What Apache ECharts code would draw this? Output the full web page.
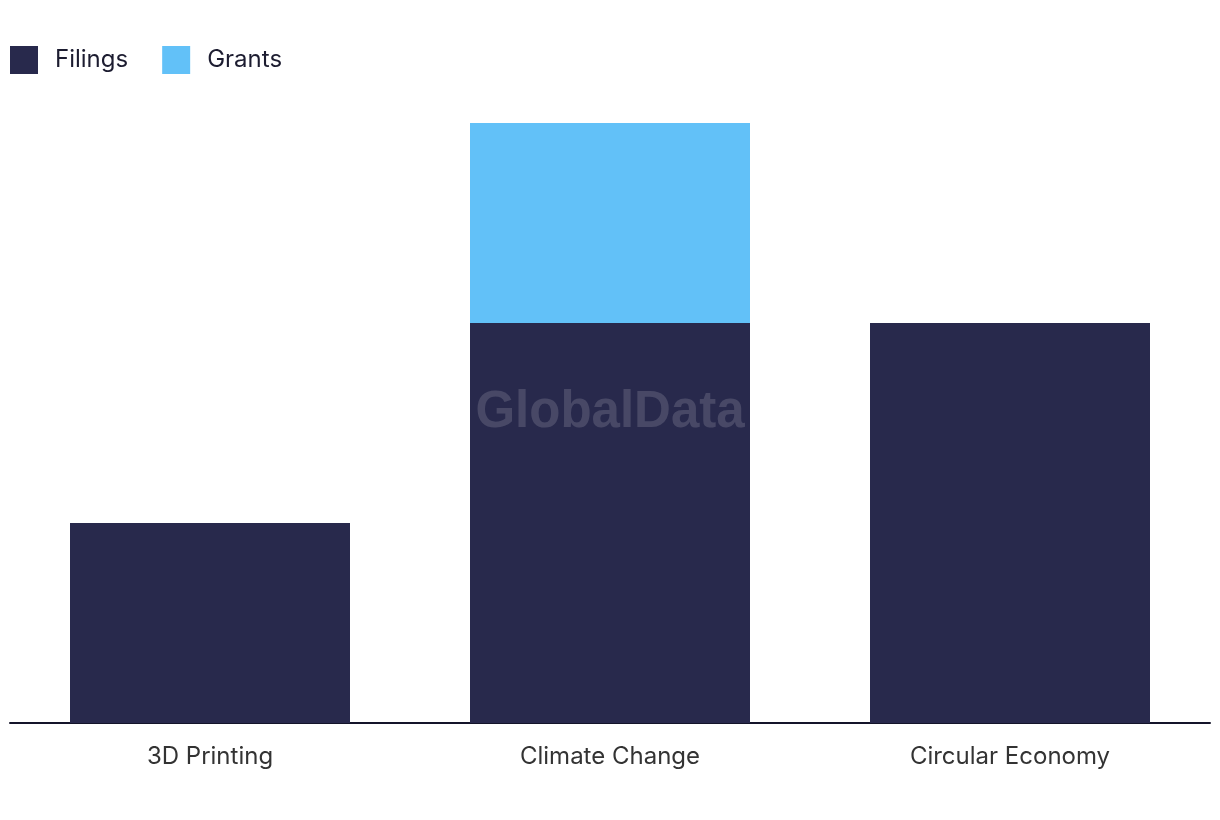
<!DOCTYPE html>
<html><head><meta charset="utf-8">
<script src="https://cdn.jsdelivr.net/npm/echarts@6/dist/echarts.min.js"></script>
<style>html,body{margin:0;padding:0;background:#fff}#c{width:1220px;height:820px}</style>
</head><body><div id="c"></div>
<script>
const categories = ['3D Printing', 'Climate Change', 'Circular Economy'];
const filings = [1, 2, 2];
const grants = [0, 1, 0];
const seriesNames = ['Filings', 'Grants'];

const chart = echarts.init(document.getElementById('c'));
chart.setOption({
  animation: false,
  legend: {
    left: 5, top: 41, itemWidth: 28, itemHeight: 28, itemGap: 34,
    icon: 'rect',
    textStyle: { fontFamily: 'Inter', fontSize: 24, color: '#1c1c30', padding: [0, 0, 0, 12] },
    data: seriesNames
  },
  grid: { left: 10, right: 10, top: 123, bottom: 97, containLabel: false },
  xAxis: {
    type: 'category', data: categories,
    axisLine: { lineStyle: { color: '#14142a', width: 2 } },
    axisTick: { show: false },
    axisLabel: { fontFamily: 'Inter', fontSize: 24, color: '#333', margin: 22 }
  },
  yAxis: { type: 'value', min: 0, max: 3, show: false, splitLine: { show: false } },
  graphic: [{
    type: 'text', left: 'center', top: 387, z: 100,
    style: { text: 'GlobalData', font: 'bold 51px "Liberation Sans", Arial, sans-serif', fill: 'rgba(255,255,255,0.15)' }
  }],
  series: [
    { name: seriesNames[0], type: 'bar', stack: 's', data: filings, barWidth: 280, itemStyle: { color: '#28294c' } },
    { name: seriesNames[1], type: 'bar', stack: 's', data: grants, barWidth: 280, itemStyle: { color: '#62c1f8' } }
  ]
});
</script></body></html>
